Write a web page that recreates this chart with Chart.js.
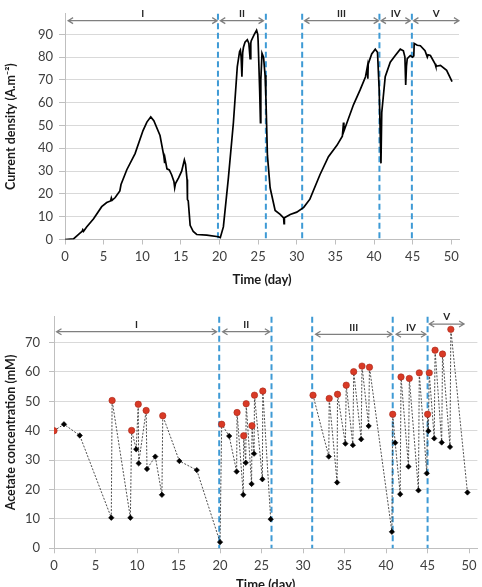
<!DOCTYPE html>
<html>
<head>
<meta charset="utf-8">
<script src="https://cdn.jsdelivr.net/npm/chart.js@4.4.1/dist/chart.umd.min.js"></script>
<style>
  html, body { margin: 0; padding: 0; background: #fff; overflow: hidden; }
  body { width: 482px; height: 587px; position: relative; }
  canvas { position: absolute; left: 0; }
  #currentChart { top: 0; }
  #acetateChart { top: 290px; }
</style>
</head>
<body>
<canvas id="currentChart" width="482" height="290"></canvas>
<canvas id="acetateChart" width="482" height="305"></canvas>
<script>
/* globals Chart:false */

// current density (A.m-2) vs time (day)
const currentDay = [0, 1.1, 1.9, 2.2, 2.3, 2.4, 2.8, 3.7, 4.75, 5.4, 5.9, 6.0, 6.1, 6.5, 7.1, 7.25, 8.0, 9.07, 10.1, 10.6, 11.1, 11.5, 12.3, 12.8, 12.9, 12.95, 13.2, 13.5, 13.8, 14.1, 14.2, 14.3, 14.7, 15.1, 15.45, 15.6, 15.8, 15.85, 15.95, 16.2, 16.6, 17.05, 18.35, 19.85, 20.1, 20.5, 21.15, 21.8, 22.3, 22.6, 22.7, 22.8, 22.9, 23.0, 23.1, 23.3, 23.6, 23.8, 23.96, 24.05, 24.1, 24.5, 24.8, 24.95, 25.0, 25.2, 25.3, 25.35, 25.5, 25.7, 25.9, 26.0, 26.1, 26.2, 26.55, 27.2, 27.85, 28.2, 28.3, 28.35, 28.4, 29.15, 30.0, 30.9, 31.7, 33.0, 34.1, 35.2, 35.9, 36.05, 36.1, 37.35, 38.2, 38.9, 39.15, 39.2, 39.25, 39.7, 40.16, 40.45, 40.67, 40.9, 41.0, 41.45, 42.1, 42.75, 43.4, 43.8, 44.0, 44.1, 44.2, 44.3, 44.7, 45.0, 45.15, 45.2, 45.6, 46.0, 46.6, 46.9, 47.0, 47.3, 47.9, 48.0, 48.6, 49.4, 50.1];
const currentDensity = [0, 0.3, 2.7, 3.5, 4.3, 3.6, 5.5, 9.1, 14.4, 16.2, 16.9, 18.2, 17.2, 18.4, 21.3, 24.1, 30.6, 37.7, 47.8, 51.5, 53.8, 52.1, 45.6, 36.5, 33.5, 35.5, 31.0, 30.5, 28.4, 25.5, 22.7, 24.5, 27.0, 30.0, 34.9, 33.0, 26.3, 17.5, 17.0, 6.2, 3.5, 2.2, 1.9, 1.2, 0.8, 5.5, 27.0, 51.3, 75.7, 82.5, 83.1, 80.0, 71.4, 82.0, 84.3, 86.5, 87.6, 86.0, 79.3, 86.0, 87.1, 90.0, 91.8, 90.0, 87.1, 65.0, 51.3, 70.0, 81.7, 80.0, 72.0, 62.8, 50.0, 37.0, 22.7, 12.7, 11.0, 9.8, 9.5, 7.0, 9.5, 11.0, 12.0, 14.1, 17.7, 28.4, 36.3, 41.3, 45.3, 51.3, 47.5, 59.2, 65.6, 71.4, 76.0, 70.5, 77.0, 81.4, 83.5, 82.1, 65.6, 33.4, 55.6, 71.4, 77.8, 80.7, 83.5, 82.8, 80.0, 67.8, 76.0, 79.3, 80.7, 80.0, 80.5, 86.0, 85.2, 85.0, 82.8, 80.0, 81.0, 80.7, 77.1, 76.0, 76.4, 74.2, 69.2];

// acetate concentration (mM) vs time (day); fed = 1 for red (after feeding)
const acetateDay = [0, 1.2, 3.1, 6.9, 7.0, 9.2, 9.35, 9.9, 10.15, 10.2, 11.1, 11.2, 12.2, 13.0, 13.1, 15.1, 17.2, 20.0, 20.2, 21.1, 22.0, 22.05, 22.8, 22.85, 23.1, 23.15, 23.8, 23.85, 24.1, 24.15, 25.1, 25.15, 26.1, 31.2, 33.1, 33.15, 34.1, 34.15, 35.1, 35.2, 36.0, 36.1, 37.0, 37.1, 37.9, 38.0, 40.7, 40.8, 41.1, 41.7, 41.8, 42.7, 42.8, 43.9, 44.0, 44.9, 45.0, 45.1, 45.2, 45.8, 45.9, 46.7, 46.8, 47.7, 47.8, 49.8];
const acetateMM = [40, 42.2, 38.4, 10.4, 50.3, 10.4, 40.1, 33.7, 49.0, 28.9, 46.9, 27.0, 31.2, 18.2, 45.1, 29.7, 26.6, 2.1, 42.2, 38.2, 26.1, 46.2, 18.2, 38.3, 29.1, 49.2, 21.9, 41.7, 32.2, 52.1, 23.5, 53.5, 9.9, 52.1, 31.2, 51.0, 22.4, 52.4, 35.6, 55.5, 35.1, 60.1, 37.1, 62.0, 41.6, 61.6, 5.6, 45.6, 35.9, 18.4, 58.3, 27.8, 57.8, 19.7, 59.7, 25.5, 45.6, 39.9, 59.7, 37.4, 67.4, 36.0, 66.1, 34.5, 74.5, 19.0];
const acetateFed = [1, 0, 0, 0, 1, 0, 1, 0, 1, 0, 1, 0, 0, 0, 1, 0, 0, 0, 1, 0, 0, 1, 0, 1, 0, 1, 0, 1, 0, 1, 0, 1, 0, 1, 0, 1, 0, 1, 0, 1, 0, 1, 0, 1, 0, 1, 0, 1, 0, 0, 1, 0, 1, 0, 1, 0, 1, 0, 1, 0, 1, 0, 1, 0, 1, 0];

// phases
const phaseLabels = ["I", "II", "III", "IV", "V"];
const currentBounds = [19.8, 26.0, 30.7, 40.7, 44.9];
const currentPhaseStart = [0.4, 20.1, 31.0, 40.9, 45.1];
const currentPhaseEnd = [19.7, 25.7, 40.6, 44.7, 51.0];
const currentArrowY = [96, 96, 96, 96, 96];
const acetateBounds = [19.9, 26.2, 31.1, 40.8, 45.0];
const acetatePhaseStart = [0.3, 20.3, 31.5, 41.2, 45.2];
const acetatePhaseEnd = [19.6, 26.0, 40.7, 44.8, 49.4];
const acetateArrowY = [73.7, 73.7, 72.8, 72.8, 76.3];

Chart.defaults.font.family = "Lato, 'Open Sans', sans-serif";
Chart.defaults.font.size = 13;
Chart.defaults.color = "#404040";

const phasePlugin = {
  id: "phases",
  beforeDatasetsDraw(chart, args, opts) {
    const { ctx, chartArea } = chart;
    const x = chart.scales.x;
    ctx.save();
    ctx.strokeStyle = "#3e9ad5";
    ctx.lineWidth = 2;
    ctx.setLineDash([6, 3.5]);
    opts.bounds.forEach((d) => {
      const px = x.getPixelForValue(d);
      ctx.beginPath();
      ctx.moveTo(px, chartArea.top);
      ctx.lineTo(px, chartArea.bottom);
      ctx.stroke();
    });
    ctx.restore();
  },
  afterDatasetsDraw(chart, args, opts) {
    const { ctx } = chart;
    const x = chart.scales.x;
    const y = chart.scales.y;
    ctx.save();
    ctx.strokeStyle = "#7f7f7f";
    ctx.lineWidth = 1.2;
    ctx.fillStyle = "#262626";
    ctx.font = "bold 10px Lato, 'Open Sans', sans-serif";
    ctx.textAlign = "center";
    ctx.textBaseline = "middle";
    opts.labels.forEach((label, i) => {
      const x1 = x.getPixelForValue(opts.starts[i]);
      const x2 = x.getPixelForValue(opts.ends[i]);
      const py = y.getPixelForValue(opts.arrowY[i]);
      ctx.beginPath();
      ctx.moveTo(x1, py);
      ctx.lineTo(x2, py);
      ctx.moveTo(x1 + 5, py - 3);
      ctx.lineTo(x1, py);
      ctx.lineTo(x1 + 5, py + 3);
      ctx.moveTo(x2 - 5, py - 3);
      ctx.lineTo(x2, py);
      ctx.lineTo(x2 - 5, py + 3);
      ctx.stroke();
      ctx.fillText(label, (x1 + x2) / 2, py - 7);
    });
    ctx.restore();
  },
};

function axisTitle(text, size) {
  return {
    display: true,
    text: text,
    color: "#1a1a1a",
    font: { weight: "bold", size: size },
    padding: { top: 3, bottom: 2 },
  };
}

document.addEventListener("DOMContentLoaded", () => {
  const topCtx = document.getElementById("currentChart").getContext("2d");
  new Chart(topCtx, {
    type: "scatter",
    data: {
      datasets: [
        {
          label: "Current density",
          data: currentDay.map((d, i) => ({ x: d, y: currentDensity[i] })),
          showLine: true,
          borderColor: "#000",
          borderWidth: 1.7,
          pointRadius: 0,
          tension: 0,
        },
      ],
    },
    plugins: [phasePlugin],
    options: {
      responsive: false,
      animation: false,
      layout: { padding: { top: 9, right: 23, left: 0, bottom: 0 } },
      plugins: {
        legend: { display: false },
        tooltip: { enabled: false },
        phases: {
          bounds: currentBounds,
          labels: phaseLabels,
          starts: currentPhaseStart,
          ends: currentPhaseEnd,
          arrowY: currentArrowY,
        },
      },
      scales: {
        x: {
          type: "linear",
          min: 0,
          max: 51,
          afterFit: (s) => { s.height = 50.5; },
          ticks: { stepSize: 5, includeBounds: false, padding: 5, maxRotation: 0 },
          grid: { drawOnChartArea: false, tickLength: 5, tickColor: "#bfbfbf" },
          border: { color: "#bfbfbf" },
          title: axisTitle("Time (day)", 13),
        },
        y: {
          min: 0,
          max: 99,
          afterFit: (s) => { s.width = 65; },
          ticks: { stepSize: 10, includeBounds: false, padding: 6 },
          grid: { color: "#d9d9d9", tickLength: 6, tickColor: "#bfbfbf" },
          border: { color: "#bfbfbf" },
          title: axisTitle("Current density (A.m\u207B\u00B2)", 12.5),
        },
      },
    },
  });

  const botCtx = document.getElementById("acetateChart").getContext("2d");
  new Chart(botCtx, {
    type: "scatter",
    data: {
      datasets: [
        {
          label: "Acetate",
          data: acetateDay.map((d, i) => ({ x: d, y: acetateMM[i] })),
          showLine: true,
          borderColor: "#3a3a3a",
          borderWidth: 0.9,
          borderDash: [2, 1.5],
          segment: {
            borderColor: (c) => (c.p1.parsed.x - c.p0.parsed.x > 5 ? "rgba(0,0,0,0)" : undefined),
          },
          pointStyle: acetateFed.map((f) => (f ? "circle" : "rectRot")),
          pointRadius: acetateFed.map((f) => (f ? 3.2 : 2.7)),
          pointBackgroundColor: acetateFed.map((f) => (f ? "#d93a26" : "#000")),
          pointBorderColor: acetateFed.map((f) => (f ? "#a8281a" : "#000")),
          pointBorderWidth: 0.6,
        },
      ],
    },
    plugins: [phasePlugin],
    options: {
      responsive: false,
      animation: false,
      layout: { padding: { top: 26.7, right: 2, left: 0, bottom: 0 } },
      plugins: {
        legend: { display: false },
        tooltip: { enabled: false },
        phases: {
          bounds: acetateBounds,
          labels: phaseLabels,
          starts: acetatePhaseStart,
          ends: acetatePhaseEnd,
          arrowY: acetateArrowY,
        },
      },
      scales: {
        x: {
          type: "linear",
          min: 0,
          max: 51,
          afterFit: (s) => { s.height = 46.7; },
          ticks: { stepSize: 5, includeBounds: false, padding: 5, maxRotation: 0 },
          grid: { drawOnChartArea: false, tickLength: 5, tickColor: "#bfbfbf" },
          border: { color: "#bfbfbf" },
          title: axisTitle("Time (day)", 13),
        },
        y: {
          min: 0,
          max: 78.8,
          afterFit: (s) => { s.width = 54; },
          ticks: { stepSize: 10, includeBounds: false, padding: 9 },
          grid: { color: "#d9d9d9", tickLength: 5, tickColor: "#bfbfbf" },
          border: { color: "#bfbfbf" },
          title: axisTitle("Acetate concentration (mM)", 12.5),
        },
      },
    },
  });
});
</script>
</body>
</html>
